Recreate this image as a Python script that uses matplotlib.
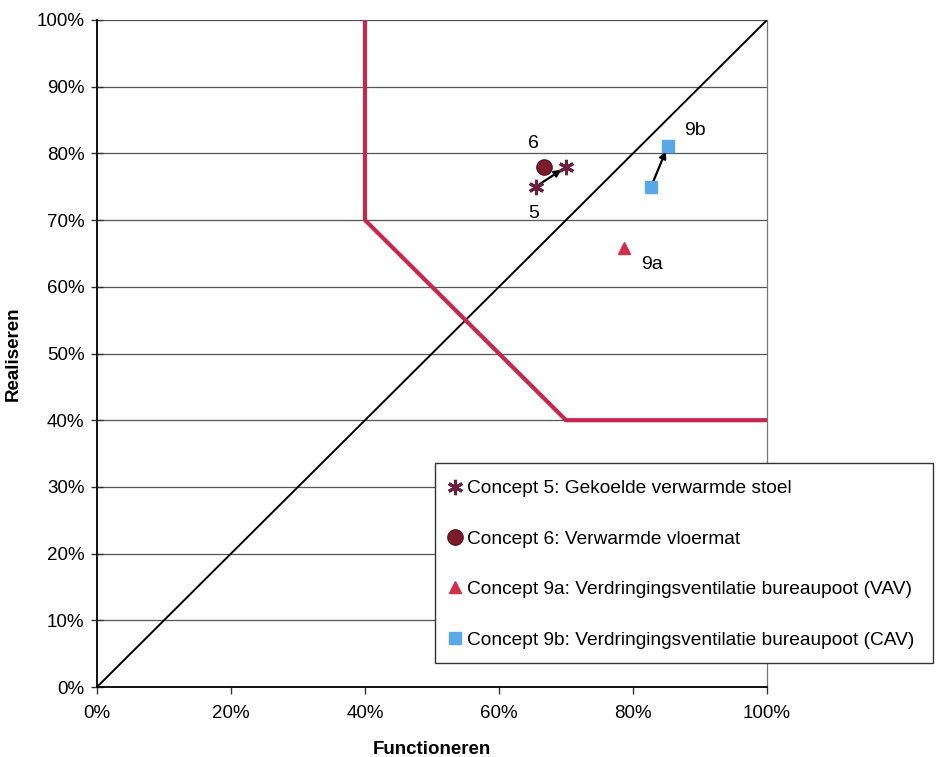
import matplotlib
matplotlib.use("Agg")
import matplotlib.pyplot as plt
from matplotlib.patches import Rectangle
from matplotlib.ticker import PercentFormatter

plt.rcParams['font.family'] = ['Liberation Sans', 'DejaVu Sans']

# Functioneren (x) / Realiseren (y), in percent
c5_x = [65.5, 70.0]
c5_y = [75.0, 78.0]
c6_x = [66.7]
c6_y = [78.0]
c9a_x = [78.7]
c9a_y = [65.8]
c9b_x = [82.7, 85.2]
c9b_y = [75.0, 81.1]

boundary_x = [40, 40, 70, 100]
boundary_y = [100, 70, 40, 40]

diag = [0, 100]

W, H = 940, 757
fig = plt.figure(figsize=(W / 100, H / 100), dpi=100)
ax = fig.add_axes([97 / W, 70 / H, 670 / W, 667 / H])

ax.set_xlim(0, 100)
ax.set_ylim(0, 100)
ax.set_yticks(range(0, 101, 10))
ax.set_xticks(range(0, 101, 20))
ax.yaxis.set_major_formatter(PercentFormatter(decimals=0))
ax.xaxis.set_major_formatter(PercentFormatter(decimals=0))
ax.grid(axis='y', color='#555555', linewidth=0.9)
ax.set_axisbelow(True)
ax.spines['top'].set_visible(False)
ax.spines['right'].set_color('#777777')
ax.spines['right'].set_linewidth(0.9)
for s in ['left', 'bottom']:
    ax.spines[s].set_linewidth(1.3)
ax.tick_params(labelsize=13.5, width=1.0, color='#333333')
ax.tick_params(axis='y', direction='inout', length=8, pad=5)
ax.tick_params(axis='x', direction='out', length=5, pad=8)

ax.plot(diag, diag, color='black', linewidth=1.4, zorder=2)
ax.plot(boundary_x, boundary_y, color='#C8264A', linewidth=3.0, zorder=2)

ax.annotate('', xy=(c5_x[1], c5_y[1]), xytext=(c5_x[0], c5_y[0]),
            arrowprops=dict(arrowstyle='-|>', color='black', lw=1.6, shrinkA=3, shrinkB=4))
ax.annotate('', xy=(c9b_x[1], c9b_y[1]), xytext=(c9b_x[0], c9b_y[0]),
            arrowprops=dict(arrowstyle='-|>', color='black', lw=1.6, shrinkA=3, shrinkB=4))

ax.plot(c5_x, c5_y, linestyle='none', marker=(6, 2, 0), markersize=11,
        markeredgewidth=2.2, color='#6B2040', label='Concept 5: Gekoelde verwarmde stoel', zorder=4)
ax.plot(c6_x, c6_y, linestyle='none', marker='o', markersize=11,
        color='#7A1C2C', markeredgecolor='#5A1020', label='Concept 6: Verwarmde vloermat', zorder=3)
ax.plot(c9a_x, c9a_y, linestyle='none', marker='^', markersize=9,
        color='#D0304A', label='Concept 9a: Verdringingsventilatie bureaupoot (VAV)', zorder=4)
ax.plot(c9b_x, c9b_y, linestyle='none', marker='s', markersize=8.5,
        color='#5AA8E8', label='Concept 9b: Verdringingsventilatie bureaupoot (CAV)', zorder=4)

ax.text(65.2, 81.5, '6', fontsize=14, ha='center', va='center')
ax.text(65.2, 71.0, '5', fontsize=14, ha='center', va='center')
ax.text(89.2, 83.5, '9b', fontsize=14, ha='center', va='center')
ax.text(82.8, 63.3, '9a', fontsize=14, ha='center', va='center')

ax.set_xlabel('Functioneren', fontsize=13.5, fontweight='bold', labelpad=14)
ax.set_ylabel('Realiseren', fontsize=13.5, fontweight='bold')
ax.yaxis.set_label_coords((22 - 97) / 670, 0.5)

# legend box
fig.patches.append(Rectangle((435 / W, 1 - 663 / H), 498 / W, 200 / H,
                             transform=fig.transFigure, facecolor='white',
                             edgecolor='#333333', linewidth=1.0, zorder=3))
leg = fig.legend(loc='upper left', bbox_to_anchor=(447 / W, 1 - 480 / H),
                 fontsize=13.8, frameon=False, labelspacing=1.72,
                 handletextpad=0.25, handlelength=0.8, borderpad=0,
                 borderaxespad=0)
leg.set_zorder(5)

fig.savefig('out.png', dpi=100)
